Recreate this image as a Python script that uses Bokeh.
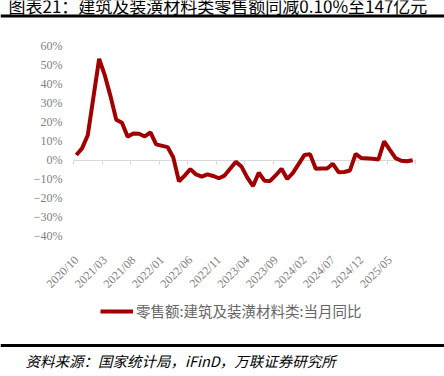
import math
from bokeh.plotting import figure
from bokeh.models import (Range1d, FixedTicker, LinearAxis, Label, BoxAnnotation,
                          Legend, LegendItem, ColumnDataSource)
from bokeh.embed import file_html
from bokeh.resources import INLINE

# ---- data (January figures are published combined with February) ----
months = ["2020/10", "2020/11", "2020/12",
          "2021/02", "2021/03", "2021/04", "2021/05", "2021/06", "2021/07", "2021/08",
          "2021/09", "2021/10", "2021/11", "2021/12",
          "2022/02", "2022/03", "2022/04", "2022/05", "2022/06", "2022/07", "2022/08",
          "2022/09", "2022/10", "2022/11", "2022/12",
          "2023/02", "2023/03", "2023/04", "2023/05", "2023/06", "2023/07", "2023/08",
          "2023/09", "2023/10", "2023/11", "2023/12",
          "2024/02", "2024/03", "2024/04", "2024/05", "2024/06", "2024/07", "2024/08",
          "2024/09", "2024/10", "2024/11", "2024/12",
          "2025/02", "2025/03", "2025/04", "2025/05", "2025/06", "2025/07", "2025/08",
          "2025/09"]
yoy = [2.6, 6.1, 13.0,
       53.2, 44.5, 33.5, 21.2, 19.6, 12.3, 13.9, 13.8, 12.4, 14.5, 8.2,
       6.8, 1.4, -11.2, -8.2, -4.8, -7.6, -8.8, -7.6, -8.4, -9.6, -8.2,
       -0.9, -3.6, -9.3, -13.7, -6.7, -10.9, -11.0, -8.0, -4.6, -10.0, -6.8,
       2.6, 3.1, -4.6, -4.5, -4.5, -2.0, -6.4, -6.3, -5.5, 3.2, 1.0,
       0.6, 0.3, 9.8, 5.3, 1.0, -0.4, -0.7, -0.1]

x_tick_labels = ["2020/10", "2021/03", "2021/08", "2022/01", "2022/06", "2022/11",
                 "2023/04", "2023/09", "2024/02", "2024/07", "2024/12", "2025/05"]
y_ticks = [60, 50, 40, 30, 20, 10, 0, -10, -20, -30, -40]
y_tick_labels = ["60%", "50%", "40%", "30%", "20%", "10%", "0%",
                 "\u221210%", "\u221220%", "\u221230%", "\u221240%"]

title_text = "图表21：建筑及装潢材料类零售额同减0.10%至147亿元"
legend_text = "零售额:建筑及装潢材料类:当月同比"
source_text = "资料来源：国家统计局，iFinD，万联证券研究所"

FIRST = "2020/10"
LAST = "2025/09"


def month_pos(s):
    y0, m0 = FIRST.split("/")
    y, m = s.split("/")
    return (int(y) - int(y0)) * 12 + int(m) - int(m0)


n_months = month_pos(LAST) + 1
Y_MIN, Y_MAX = min(y_ticks), max(y_ticks)

# ---- layout (canvas pixels) ----
W, H = 444, 376
PLOT_L, PLOT_R = 73, 415        # canvas x of the plotting area edges
PLOT_T, PLOT_B = 45.5, 235.5    # canvas y of the top / bottom tick values

px_x = (PLOT_R - PLOT_L) / n_months
px_y = (PLOT_B - PLOT_T) / (Y_MAX - Y_MIN)
x_start = -0.5 - PLOT_L / px_x
x_end = n_months - 0.5 + (W - PLOT_R) / px_x
y_end = Y_MAX + PLOT_T / px_y
y_start = Y_MIN - (H - PLOT_B) / px_y

LINE_COLOR = "#A00000"
GRAY_TEXT = "#7F7F7F"
SERIF = "Liberation Serif"
CJK = "Noto Sans CJK SC"

src = ColumnDataSource(data=dict(x=[month_pos(m) for m in months], y=yoy))

p = figure(width=W, height=H, output_backend="svg", toolbar_location=None,
           x_range=Range1d(x_start, x_end), y_range=Range1d(y_start, y_end),
           min_border=0, x_axis_type=None, y_axis_type=None)
p.outline_line_color = None
p.background_fill_color = "white"
p.border_fill_color = "white"

# y axis (drawn at the left edge of the plotting area)
yaxis = LinearAxis(fixed_location=-0.5, ticker=FixedTicker(ticks=y_ticks),
                   major_label_overrides={t: l for t, l in zip(y_ticks, y_tick_labels)})
yaxis.axis_line_color = None
yaxis.major_tick_line_color = None
yaxis.minor_tick_line_color = None
yaxis.major_label_text_font = SERIF
yaxis.major_label_text_font_size = "12px"
yaxis.major_label_text_color = GRAY_TEXT
yaxis.major_label_standoff = 5
p.add_layout(yaxis, "left")

# x axis labels at the bottom of the plotting area
xpos = [month_pos(s) for s in x_tick_labels]
xaxis = LinearAxis(fixed_location=Y_MIN, ticker=FixedTicker(ticks=xpos),
                   major_label_overrides={t: l for t, l in zip(xpos, x_tick_labels)})
xaxis.axis_line_color = None
xaxis.major_tick_line_color = None
xaxis.minor_tick_line_color = None
xaxis.major_label_orientation = math.pi / 4
xaxis.major_label_text_font = SERIF
xaxis.major_label_text_font_size = "12px"
xaxis.major_label_text_color = GRAY_TEXT
xaxis.major_label_standoff = 16
p.add_layout(xaxis, "below")

# zero line axis with category boundary ticks
bounds = [i - 0.5 for i in range(0, n_months + 1, 5)]
zaxis = LinearAxis(fixed_location=0, ticker=FixedTicker(ticks=bounds),
                   bounds=(-0.5, n_months - 0.5),
                   major_label_overrides={b: "" for b in bounds})
zaxis.axis_line_color = "#D9D9D9"
zaxis.axis_line_width = 1
zaxis.major_tick_line_color = "#D9D9D9"
zaxis.major_tick_out = 4
zaxis.major_tick_in = 0
zaxis.minor_tick_line_color = None
zaxis.major_label_text_font_size = "0px"
zaxis.level = "underlay"
p.add_layout(zaxis, "below")

r = p.line(x="x", y="y", source=src, line_color=LINE_COLOR, line_width=4)

legend = Legend(items=[LegendItem(label=legend_text, renderers=[r])],
                location=(100, 55), orientation="horizontal", padding=0, margin=0,
                spacing=0, glyph_width=33, glyph_height=16, label_height=16,
                label_standoff=3, border_line_color=None, background_fill_alpha=0,
                label_text_font=CJK, label_text_font_size="14.5px",
                label_text_color="#666666")
p.add_layout(legend)

# header / footer (screen units: x from left, y up from bottom of canvas)
p.add_layout(Label(x=8, y=H - 4.5, x_units="screen", y_units="screen", text=title_text,
                   text_font=CJK, text_font_size="17px", text_color="black",
                   text_baseline="alphabetic", text_align="left"))
p.add_layout(BoxAnnotation(left=0, right=W, top=H - 14, bottom=H - 17,
                           left_units="screen", right_units="screen",
                           top_units="screen", bottom_units="screen",
                           fill_color="black", fill_alpha=1, line_color=None))
p.add_layout(BoxAnnotation(left=0, right=W, top=H - 343.5, bottom=H - 346.5,
                           left_units="screen", right_units="screen",
                           top_units="screen", bottom_units="screen",
                           fill_color="black", fill_alpha=1, line_color=None))
p.add_layout(Label(x=25, y=H - 360, x_units="screen", y_units="screen", text=source_text,
                   text_font=CJK, text_font_size="14.5px", text_font_style="italic",
                   text_color="black", text_baseline="middle", text_align="left"))

open("out.html", "w").write(file_html(p, INLINE))
